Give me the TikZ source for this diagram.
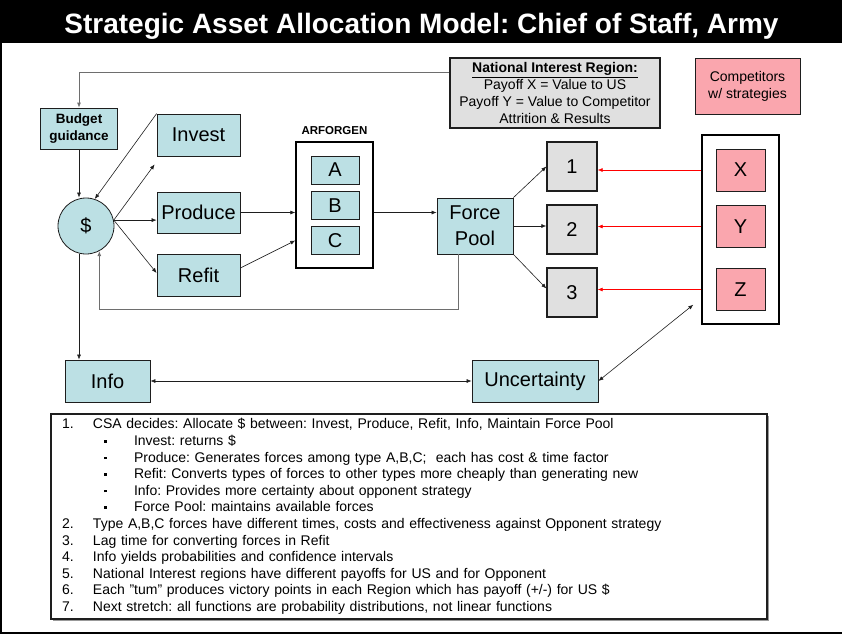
\documentclass[tikz,border=0pt]{standalone}
\usepackage{fontspec}
\setmainfont{Liberation Sans}
\usepackage{tikz}
\usetikzlibrary{arrows.meta, positioning, calc, shadows}
\definecolor{sablue}{RGB}{188,224,228}
\definecolor{sapink}{RGB}{250,166,174}
\definecolor{sagrey}{RGB}{224,224,224}
\definecolor{saline}{RGB}{30,30,30}
\definecolor{safeed}{RGB}{110,110,110}
\newcommand{\fs}[2]{\fontsize{#1}{#2}\selectfont}
\newcommand{\noteline}[2]{\makebox[31pt][l]{#1}#2}
\newcommand{\notesub}[1]{\hspace{42pt}\makebox[30pt][l]{\rule[3pt]{2.5pt}{2.5pt}}#1}
\frenchspacing
\tikzset{
  bluebox/.style  = {rectangle, draw=saline, line width=0.8pt, fill=sablue,
                     align=center, font=\fs{20}{26}, inner sep=2pt},
  greybox/.style  = {rectangle, draw=saline, line width=1.3pt, fill=sagrey,
                     align=center, font=\fs{20}{26}, inner sep=2pt},
  pinkbox/.style  = {rectangle, draw=saline, line width=0.8pt, fill=sapink,
                     align=center, font=\fs{20}{26}, inner sep=2pt},
  holder/.style   = {rectangle, draw=black, line width=1.4pt, fill=white, inner sep=0pt},
  notebox/.style  = {rectangle, draw=saline, line width=1.3pt, fill=white,
                     align=left, font=\fs{14}{16.6}\frenchspacing, inner xsep=11pt, inner ysep=0pt,
                     drop shadow={shadow xshift=1.5pt, shadow yshift=-1.5pt,
                                  fill=gray!80, opacity=1}},
  arr/.style      = {-{Latex[length=5pt,width=4pt]}, line width=0.6pt, draw=saline},
  dblarr/.style   = {{Latex[length=5pt,width=4pt]}-{Latex[length=5pt,width=4pt]},
                     line width=0.6pt, draw=saline},
  redarr/.style   = {-{Latex[length=5pt,width=4pt]}, line width=0.6pt, draw=red},
  fbarr/.style    = {-{Latex[length=5pt,width=4pt]}, line width=0.8pt, draw=safeed},
}

\begin{document}
\begin{tikzpicture}[x=1pt, y=-1pt]
  \useasboundingbox (0,0) rectangle (842,633);
  % title bar and frame
  \fill[black] (0,0) rectangle (842,43);
  \node[font=\fs{28}{32}\bfseries, text=white, anchor=base] (title) at (421.5,33)
    {Strategic Asset Allocation Model: Chief of Staff, Army};
  \draw[line width=2pt] (1,43) -- (1,632.5) -- (842,632.5);

  % budget side
  \node[bluebox, minimum width=77pt, minimum height=41pt, font=\fs{13.5}{17}\bfseries]
    (budget) at (79,128.5) {Budget\\guidance};
  \node[bluebox, circle, minimum size=56pt] (dollar) at (86,226) {\$};
  \node[bluebox, minimum width=83pt, minimum height=42pt] (invest) at (198.5,135) {Invest};
  \node[bluebox, minimum width=83pt, minimum height=41pt] (produce) at (198.5,212.5) {Produce};
  \node[bluebox, minimum width=83pt, minimum height=42pt] (refit) at (198.5,275) {Refit};

  % ARFORGEN
  \node[holder, minimum width=77pt, minimum height=126pt] (arf) at (334.5,205) {};
  \node[font=\fs{11.5}{14}\bfseries, above=3pt of arf] (arflab) {ARFORGEN};
  \node[bluebox, minimum width=48pt, minimum height=28pt] (A) at (335,170) {A};
  \node[bluebox, minimum width=48pt, minimum height=28pt] (B) at (335,205.5) {B};
  \node[bluebox, minimum width=48pt, minimum height=28pt] (C) at (335,240.5) {C};
  \node[bluebox, minimum width=76pt, minimum height=56pt] (pool) at (475,226) {Force\\Pool};

  % regions
  \node[greybox, minimum width=50pt, minimum height=49pt] (r1) at (572,166.5) {1};
  \node[greybox, minimum width=50pt, minimum height=49pt] (r2) at (572,229.5) {2};
  \node[greybox, minimum width=50pt, minimum height=49pt] (r3) at (572,292.5) {3};
  \node[greybox, minimum width=210pt, minimum height=70pt, font=\fs{14}{17}] (nir) at (555,93)
    {\underline{\textbf{National Interest Region:}}\\Payoff X = Value to US\\
     Payoff Y = Value to Competitor\\Attrition \& Results};

  % competitors
  \node[pinkbox, minimum width=105pt, minimum height=56pt, font=\fs{14}{17}] (comp) at (747.5,86)
    {Competitors\\w/ strategies};
  \node[holder, minimum width=77pt, minimum height=189pt] (xyz) at (740.5,229.5) {};
  \node[pinkbox, minimum width=49pt, minimum height=42pt] (X) at (740.5,170) {X};
  \node[pinkbox, minimum width=49pt, minimum height=42pt] (Y) at (740.5,226.5) {Y};
  \node[pinkbox, minimum width=49pt, minimum height=42pt] (Z) at (740.5,289.5) {Z};

  % info
  \node[bluebox, minimum width=85pt, minimum height=42pt] (info) at (107.5,381) {Info};
  \node[bluebox, minimum width=126pt, minimum height=42pt] (unc) at (535,381) {Uncertainty};

  % connectors
  \draw[fbarr] ([yshift=21pt]nir.west) -| (budget.north);
  \draw[arr] (budget) -- (budget |- dollar.north);
  \draw[arr] (invest.north west) -- (dollar.72);
  \draw[arr] (dollar.12) -- ([xshift=-2pt,yshift=-8pt]invest.south west);
  \draw[arr] (dollar.12) -- (dollar.12 -| produce.west);
  \draw[arr] (dollar.12) -- ([yshift=2pt]refit.west);
  \draw[arr] (produce.east) -- (produce.east -| arf.west);
  \draw[arr] ([yshift=7pt]refit.east) -- (arf.west |- C);
  \draw[arr] (arf.east |- produce) -- (pool.west |- produce);
  \draw[arr] (pool.north east) -- (r1.west);
  \draw[arr] (pool.east) -- (pool.east -| r2.west);
  \draw[arr] (pool.south east) -- ([yshift=4pt]r3.west);
  \draw[fbarr] ([xshift=-17pt]pool.south) -- ++(0,55) -| (dollar.-62);
  \draw[redarr] (xyz.west |- X) -- (X -| r1.east);
  \draw[redarr] (xyz.west |- Y) -- (Y -| r2.east);
  \draw[redarr] (xyz.west |- Z) -- (Z -| r3.east);
  \draw[arr] (budget |- dollar.south) -- (budget |- info.north);
  \draw[dblarr] (info) -- (unc);
  \draw[dblarr] (unc.east) -- ([xshift=-8pt,yshift=20pt]xyz.south west);

  % notes
  \node[notebox, text width=694pt, minimum height=205pt] (notes) at (409,516.5) {%
    \noteline{1.}{CSA decides: Allocate \$ between: Invest, Produce, Refit, Info, Maintain Force Pool}\\
    \notesub{Invest: returns \$}\\
    \notesub{Produce: Generates forces among type A,B,C;\ \ each has cost \& time factor}\\
    \notesub{Refit: Converts types of forces to other types more cheaply than generating new}\\
    \notesub{Info: Provides more certainty about opponent strategy}\\
    \notesub{Force Pool: maintains available forces}\\
    \noteline{2.}{Type A,B,C forces have different times, costs and effectiveness against Opponent strategy}\\
    \noteline{3.}{Lag time for converting forces in Refit}\\
    \noteline{4.}{Info yields probabilities and confidence intervals}\\
    \noteline{5.}{National Interest regions have different payoffs for US and for Opponent}\\
    \noteline{6.}{Each "tum" produces victory points in each Region which has payoff (+/-) for US \$}\\
    \noteline{7.}{Next stretch: all functions are probability distributions, not linear functions}};
\end{tikzpicture}
\end{document}
